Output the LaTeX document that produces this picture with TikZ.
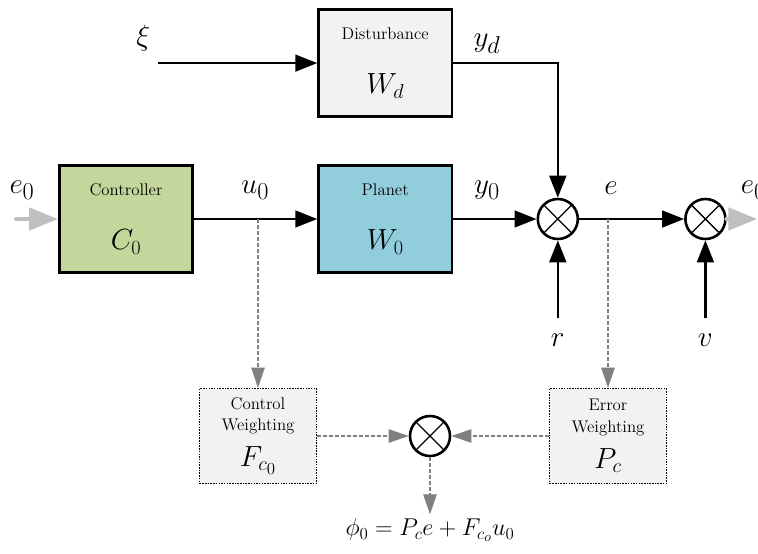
\documentclass[tikz,border=0pt]{standalone}
\usepackage{tikz}
\usetikzlibrary{arrows.meta, positioning}
\definecolor{ctrlgreen}{HTML}{C3D69B}
\definecolor{plantblue}{HTML}{92CDDC}
\definecolor{boxgray}{HTML}{F2F2F2}
\definecolor{signalgray}{HTML}{BFBFBF}
\definecolor{dashgray}{HTML}{808080}
\newcommand{\boxmath}{\fontsize{27}{30}\selectfont}
\tikzset{
  block/.style={rectangle, draw=black, fill=boxgray, line width=2.2pt, font=\Large,
                minimum width=4cm, minimum height=3.2cm, align=center, inner sep=2pt},
  wblock/.style={rectangle, draw=black, fill=boxgray, line width=1.3pt, densely dotted, font=\Large,
                 minimum width=3.5cm, minimum height=2.85cm, align=center, inner sep=2pt},
  junc/.style={circle, draw=black, fill=white, line width=2.2pt, minimum size=1.2cm, inner sep=0pt,
               path picture={\draw[line width=1.1pt, solid]
                 (path picture bounding box.center) +(45:0.6cm) -- +(225:0.6cm)
                 (path picture bounding box.center) +(135:0.6cm) -- +(-45:0.6cm);}},
  arrow/.style={-{Triangle[length=6.6mm, width=5mm]}, line width=2.2pt},
  dasharrow/.style={-{Triangle[length=6mm, width=4mm]}, line width=1.1pt, color=dashgray,
                    dash pattern=on 1.1mm off 0.7mm},
  grayarrow/.style={-{Triangle[length=8.7mm, width=6.6mm]}, line width=4pt, color=signalgray,
                    line cap=round},
  siglab/.style={font=\Huge},
}
\begin{document}
\begin{tikzpicture}
  \path[use as bounding box, clip] (0,0) rectangle (22.74,-16.59);

  % forward path
  \node[block, fill=ctrlgreen] (ctrl) at (3.78,-6.57) {Controller\\[10mm]{\boxmath $C_0$}};
  \node[block, fill=plantblue, right=3.7cm of ctrl] (plant) {Planet\\[10mm]{\boxmath $W_0$}};
  \node[block, above=1.4cm of plant] (dist) {Disturbance\\[10mm]{\boxmath $W_d$}};
  \node[junc, right=2.5cm of plant] (sum1) {};
  \node[junc, right=3.15cm of sum1] (sum2) {};

  % weighting part
  \node[wblock] (cw) at (7.74,-13.08) {Control\\Weighting\\[3.5mm]{\boxmath $F_{c_0}$}};
  \node[wblock] (ew) at (18.24,-13.08) {Error\\Weighting\\[3.5mm]{\boxmath $P_c$}};
  \node[junc] (sum3) at (12.9,-13.08) {};
  \node[font=\huge] (phi) at (12.9,-15.9) {$\phi_0 = P_c e + F_{c_o} u_0$};

  % free ends
  \coordinate[left=4.77cm of dist.west] (xin);
  \coordinate[left=1.25cm of ctrl.west] (ein);
  \coordinate (eout) at (22.72,-6.57);
  \coordinate[below=2.34cm of sum1] (rin);
  \coordinate[below=2.34cm of sum2] (vin);

  % signal labels
  \node[siglab] (xilab) at (4.3,-1.15) {$\xi$};
  \node[siglab] (ydlab) at (14.61,-1.3) {$y_d$};
  \node[siglab] (e0lab) at (0.66,-5.7) {$e_0$};
  \node[siglab] (u0lab) at (7.65,-5.7) {$u_0$};
  \node[siglab] (y0lab) at (14.61,-5.7) {$y_0$};
  \node[siglab] (elab) at (18.33,-5.65) {$e$};
  \node[siglab, anchor=west] (eoutlab) at (22.1,-5.7) {$e_0$};
  \node[siglab, below=0.35cm of rin] (rlab) {$r$};
  \node[siglab, below=0.35cm of vin] (vlab) {$v$};

  % connectors
  \draw[grayarrow] (ein) -- (ctrl.west);
  \draw[arrow] (xin) -- (dist.west);
  \draw[arrow] (ctrl.east) -- (plant.west);
  \draw[arrow] (plant.east) -- (sum1.west);
  \draw[arrow] (dist.east) -| (sum1.north);
  \draw[arrow] (rin) -- (sum1.south);
  \draw[arrow] (sum1.east) -- (sum2.west);
  \draw[arrow] (vin) -- (sum2.south);
  \draw[grayarrow] (sum2.east) -- (eout);

  \draw[dasharrow] (cw |- ctrl.east) -- (cw.north);
  \draw[dasharrow] (ew |- sum1.east) -- (ew.north);
  \draw[dasharrow] (cw.east) -- (sum3.west);
  \draw[dasharrow] (ew.west) -- (sum3.east);
  \draw[dasharrow] (sum3.south) -- (phi.north);
\end{tikzpicture}
\end{document}
